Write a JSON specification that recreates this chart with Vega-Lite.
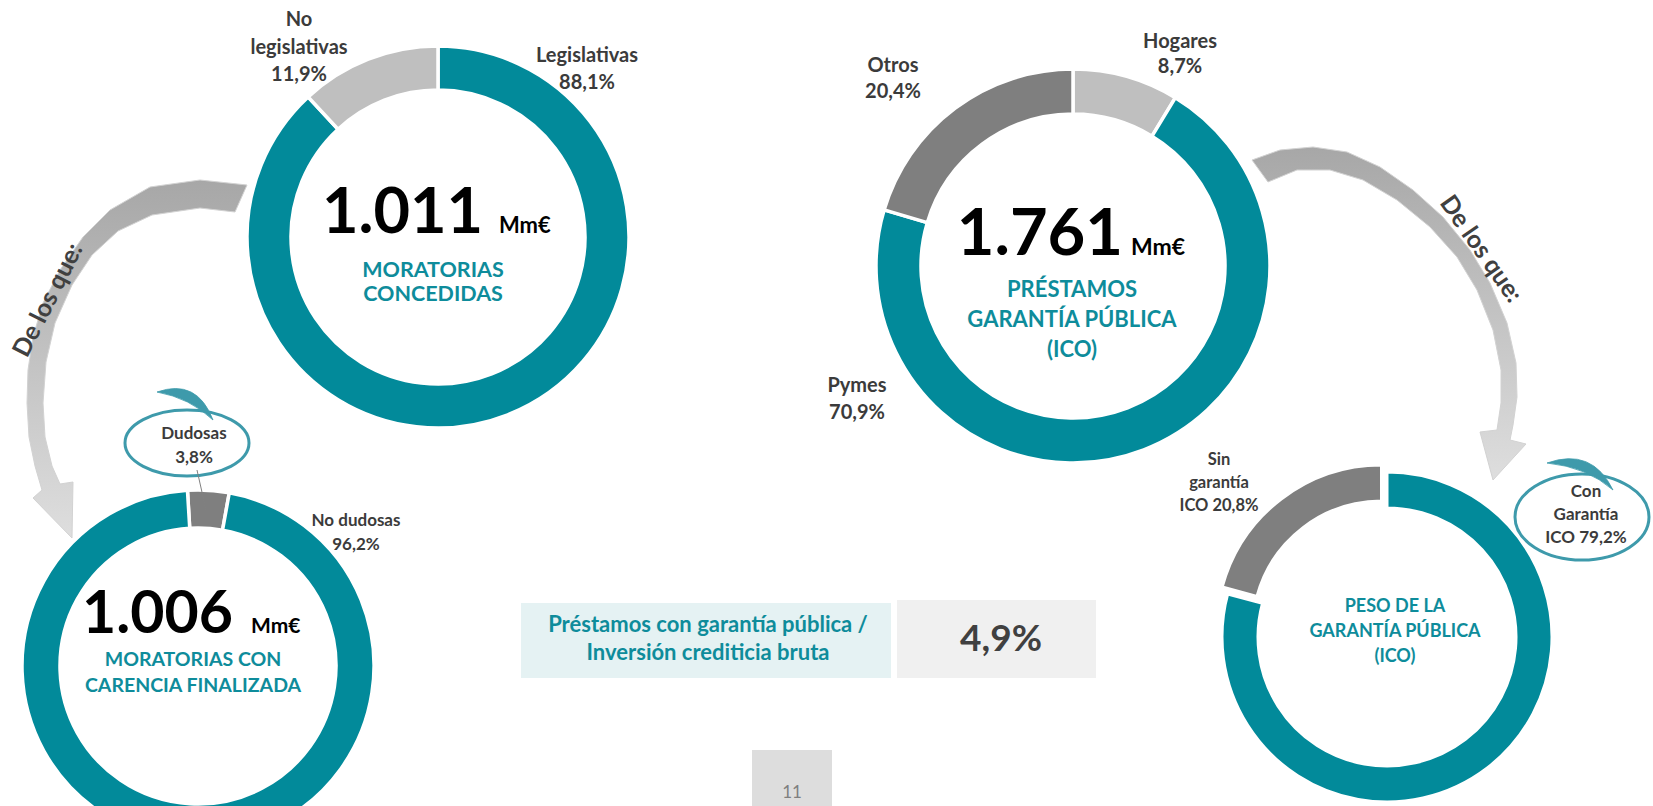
{
  "$schema": "https://vega.github.io/schema/vega-lite/v6.json",
  "width": 1653,
  "height": 806,
  "padding": 0,
  "autosize": {"type": "none"},
  "background": "white",
  "config": {
    "view": {"stroke": null},
    "locale": {"number": {"decimal": ",", "thousands": ".", "grouping": [3], "currency": ["", " €"]}},
    "text": {"font": "Lato"}
  },
  "datasets": {
    "moratorias": [
      {"cat": "Legislativas", "pct": 88.1, "k": 1, "label": "Legislativas\n88,1%"},
      {"cat": "No legislativas", "pct": 11.9, "k": 2, "label": "No\nlegislativas\n11,9%"}
    ],
    "ico": [
      {"cat": "Hogares", "pct": 8.7, "k": 1, "label": "Hogares\n8,7%"},
      {"cat": "Pymes", "pct": 70.9, "k": 2, "label": "Pymes\n70,9%"},
      {"cat": "Otros", "pct": 20.4, "k": 3, "label": "Otros\n20,4%"}
    ],
    "carencia": [
      {"cat": "Dudosas", "pct": 3.8, "k": 1, "label": "Dudosas\n3,8%"},
      {"cat": "No dudosas", "pct": 96.2, "k": 2, "label": "No dudosas\n96,2%"}
    ],
    "peso": [
      {"cat": "Con Garantía ICO", "pct": 79.2, "k": 1, "label": "Con\nGarantía\nICO 79,2%"},
      {"cat": "Sin garantía ICO", "pct": 20.8, "k": 2, "label": "Sin\ngarantía\nICO 20,8%"}
    ],
    "totales": [
      {"id": "moratorias", "total": 1011, "unit": "Mm€", "title": "MORATORIAS\nCONCEDIDAS"},
      {"id": "ico", "total": 1761, "unit": "Mm€", "title": "PRÉSTAMOS\nGARANTÍA PÚBLICA\n(ICO)"},
      {"id": "carencia", "total": 1006, "unit": "Mm€", "title": "MORATORIAS CON\nCARENCIA FINALIZADA"},
      {"id": "peso", "title": "PESO DE LA\nGARANTÍA PÚBLICA\n(ICO)"}
    ],
    "flechas": [
      {"id": "izq", "texto": "De los que:"},
      {"id": "der", "texto": "De los que:"}
    ],
    "ratio": [
      {"label": "Préstamos con garantía pública /\nInversión crediticia bruta", "value": 0.049}
    ],
    "pagina": [{"n": 11}]
  },
  "layer": [
    {
      "data": {"name": "flechas"},
      "transform": [{"filter": "datum.id === 'izq'"}],
      "mark": {"type": "point", "filled": true, "opacity": 1, "size": 40000,
        "shape": "M1.07,-1.75 L0.60,-1.80 L0.10,-1.73 L-0.30,-1.50 L-0.57,-1.23 L-0.80,-0.90 L-0.97,-0.57 L-1.07,-0.23 L-1.12,0.10 L-1.13,0.43 L-1.11,0.77 L-1.05,1.06 L-0.98,1.30 L-1.07,1.38 L-0.68,1.78 L-0.67,1.22 L-0.80,1.24 L-0.88,1.06 L-0.95,0.77 L-0.97,0.43 L-0.94,0.02 L-0.85,-0.37 L-0.68,-0.75 L-0.48,-1.05 L-0.22,-1.29 L0.12,-1.45 L0.60,-1.52 L0.95,-1.48 Z",
        "fill": {"gradient": "linear", "x1": 0, "y1": 0, "x2": 0, "y2": 1, "stops": [{"offset": 0, "color": "#A7A7A7"}, {"offset": 1, "color": "#DEDEDE"}]},
        "stroke": "#D2D2D2", "strokeWidth": 1},
      "encoding": {
        "x": {"datum": 140, "type": "quantitative", "scale": {"domain": [0, 1653], "range": [0, 1653], "nice": false}, "axis": null},
        "y": {"datum": 360, "type": "quantitative", "scale": {"domain": [0, 806], "range": [0, 806], "nice": false}, "axis": null}
      }
    },
    {
      "data": {"name": "flechas"},
      "transform": [{"filter": "datum.id === 'der'"}],
      "mark": {"type": "point", "filled": true, "opacity": 1, "size": 40000,
        "shape": "M-1.48,-1.60 L-1.20,-1.70 L-0.87,-1.73 L-0.53,-1.68 L-0.20,-1.53 L0.13,-1.30 L0.43,-1.03 L0.70,-0.70 L0.90,-0.37 L1.07,0.03 L1.16,0.43 L1.17,0.77 L1.13,1.05 L1.10,1.20 L1.26,1.24 L0.93,1.60 L0.80,1.12 L0.97,1.10 L1.01,0.83 L1.01,0.50 L0.93,0.10 L0.77,-0.30 L0.57,-0.63 L0.30,-0.93 L-0.03,-1.20 L-0.37,-1.40 L-0.70,-1.50 L-1.03,-1.50 L-1.32,-1.38 Z",
        "fill": {"gradient": "linear", "x1": 0, "y1": 0, "x2": 0, "y2": 1, "stops": [{"offset": 0, "color": "#A7A7A7"}, {"offset": 1, "color": "#DEDEDE"}]},
        "stroke": "#D2D2D2", "strokeWidth": 1},
      "encoding": {
        "x": {"datum": 1400, "type": "quantitative", "scale": {"domain": [0, 1653], "range": [0, 1653], "nice": false}, "axis": null},
        "y": {"datum": 320, "type": "quantitative", "scale": {"domain": [0, 806], "range": [0, 806], "nice": false}, "axis": null}
      }
    },
    {
      "data": {"name": "flechas"},
      "transform": [{"filter": "datum.id === 'izq'"}],
      "mark": {"type": "text", "align": "center", "baseline": "middle", "font": "Lato", "fontSize": 25, "fontWeight": "bold", "color": "#404040", "angle": -63},
      "encoding": {
        "x": {"datum": 48, "type": "quantitative", "scale": {"domain": [0, 1653], "range": [0, 1653], "nice": false}, "axis": null},
        "y": {"datum": 300, "type": "quantitative", "scale": {"domain": [0, 806], "range": [0, 806], "nice": false}, "axis": null},
        "text": {"field": "texto"}
      }
    },
    {
      "data": {"name": "flechas"},
      "transform": [{"filter": "datum.id === 'der'"}],
      "mark": {"type": "text", "align": "center", "baseline": "middle", "font": "Lato", "fontSize": 25, "fontWeight": "bold", "color": "#404040", "angle": 55},
      "encoding": {
        "x": {"datum": 1481, "type": "quantitative", "scale": {"domain": [0, 1653], "range": [0, 1653], "nice": false}, "axis": null},
        "y": {"datum": 249, "type": "quantitative", "scale": {"domain": [0, 806], "range": [0, 806], "nice": false}, "axis": null},
        "text": {"field": "texto"}
      }
    },
    {
      "data": {"name": "moratorias"},
      "mark": {"type": "arc", "outerRadius": 191, "innerRadius": 147, "stroke": "white", "strokeWidth": 3.5},
      "encoding": {
        "x": {"datum": 438, "type": "quantitative", "scale": {"domain": [0, 1653], "range": [0, 1653], "nice": false}, "axis": null},
        "y": {"datum": 237, "type": "quantitative", "scale": {"domain": [0, 806], "range": [0, 806], "nice": false}, "axis": null},
        "theta": {"field": "pct", "type": "quantitative", "stack": true},
        "order": {"field": "k", "type": "quantitative"},
        "color": {"field": "cat", "type": "nominal", "legend": null,
          "scale": {"domain": ["Legislativas", "No legislativas", "Hogares", "Pymes", "Otros", "Dudosas", "No dudosas", "Con Garantía ICO", "Sin garantía ICO"],
                    "range": ["#028A9A", "#BFBFBF", "#BFBFBF", "#028A9A", "#7F7F7F", "#7F7F7F", "#028A9A", "#028A9A", "#7F7F7F"]}}
      }
    },
    {
      "data": {"name": "ico"},
      "mark": {"type": "arc", "outerRadius": 197, "innerRadius": 152, "stroke": "white", "strokeWidth": 3.5},
      "encoding": {
        "x": {"datum": 1073, "type": "quantitative", "scale": {"domain": [0, 1653], "range": [0, 1653], "nice": false}, "axis": null},
        "y": {"datum": 266, "type": "quantitative", "scale": {"domain": [0, 806], "range": [0, 806], "nice": false}, "axis": null},
        "theta": {"field": "pct", "type": "quantitative", "stack": true},
        "order": {"field": "k", "type": "quantitative"},
        "color": {"field": "cat", "type": "nominal", "legend": null,
          "scale": {"domain": ["Legislativas", "No legislativas", "Hogares", "Pymes", "Otros", "Dudosas", "No dudosas", "Con Garantía ICO", "Sin garantía ICO"],
                    "range": ["#028A9A", "#BFBFBF", "#BFBFBF", "#028A9A", "#7F7F7F", "#7F7F7F", "#028A9A", "#028A9A", "#7F7F7F"]}}
      }
    },
    {
      "data": {"name": "carencia"},
      "mark": {"type": "arc", "outerRadius": 176, "innerRadius": 138, "stroke": "white", "strokeWidth": 3.5},
      "encoding": {
        "x": {"datum": 198, "type": "quantitative", "scale": {"domain": [0, 1653], "range": [0, 1653], "nice": false}, "axis": null},
        "y": {"datum": 666, "type": "quantitative", "scale": {"domain": [0, 806], "range": [0, 806], "nice": false}, "axis": null},
        "theta": {"field": "pct", "type": "quantitative", "stack": true, "scale": {"range": [-0.06, 6.2232]}},
        "order": {"field": "k", "type": "quantitative"},
        "color": {"field": "cat", "type": "nominal", "legend": null,
          "scale": {"domain": ["Legislativas", "No legislativas", "Hogares", "Pymes", "Otros", "Dudosas", "No dudosas", "Con Garantía ICO", "Sin garantía ICO"],
                    "range": ["#028A9A", "#BFBFBF", "#BFBFBF", "#028A9A", "#7F7F7F", "#7F7F7F", "#028A9A", "#028A9A", "#7F7F7F"]}}
      }
    },
    {
      "data": {"name": "peso"},
      "mark": {"type": "arc", "outerRadius": 165, "innerRadius": 129, "stroke": "white", "strokeWidth": 3},
      "encoding": {
        "x": {"datum": 1387, "type": "quantitative", "scale": {"domain": [0, 1653], "range": [0, 1653], "nice": false}, "axis": null},
        "y": {"datum": 637, "type": "quantitative", "scale": {"domain": [0, 806], "range": [0, 806], "nice": false}, "axis": null},
        "theta": {"field": "pct", "type": "quantitative", "stack": true},
        "order": {"field": "k", "type": "quantitative"},
        "opacity": {"condition": {"test": "datum.cat === 'Sin garantía ICO'", "value": 0}, "value": 1},
        "color": {"field": "cat", "type": "nominal", "legend": null,
          "scale": {"domain": ["Legislativas", "No legislativas", "Hogares", "Pymes", "Otros", "Dudosas", "No dudosas", "Con Garantía ICO", "Sin garantía ICO"],
                    "range": ["#028A9A", "#BFBFBF", "#BFBFBF", "#028A9A", "#7F7F7F", "#7F7F7F", "#028A9A", "#028A9A", "#7F7F7F"]}}
      }
    },
    {
      "data": {"name": "peso"},
      "mark": {"type": "arc", "outerRadius": 165, "innerRadius": 129, "stroke": "white", "strokeWidth": 3},
      "encoding": {
        "x": {"datum": 1381.5, "type": "quantitative", "scale": {"domain": [0, 1653], "range": [0, 1653], "nice": false}, "axis": null},
        "y": {"datum": 630, "type": "quantitative", "scale": {"domain": [0, 806], "range": [0, 806], "nice": false}, "axis": null},
        "theta": {"field": "pct", "type": "quantitative", "stack": true},
        "order": {"field": "k", "type": "quantitative"},
        "opacity": {"condition": {"test": "datum.cat === 'Sin garantía ICO'", "value": 1}, "value": 0},
        "color": {"field": "cat", "type": "nominal", "legend": null,
          "scale": {"domain": ["Legislativas", "No legislativas", "Hogares", "Pymes", "Otros", "Dudosas", "No dudosas", "Con Garantía ICO", "Sin garantía ICO"],
                    "range": ["#028A9A", "#BFBFBF", "#BFBFBF", "#028A9A", "#7F7F7F", "#7F7F7F", "#028A9A", "#028A9A", "#7F7F7F"]}}
      }
    },
    {
      "data": {"name": "carencia"},
      "transform": [{"filter": "datum.cat === 'Dudosas'"}],
      "mark": {"type": "point", "filled": false, "opacity": 1, "size": 40000,
        "shape": "M-0.62,0 A0.62,0.33,0,1,0,0.62,0 A0.62,0.33,0,1,0,-0.62,0 Z",
        "stroke": "#3E9AAB", "strokeWidth": 3},
      "encoding": {
        "x": {"datum": 187, "type": "quantitative", "scale": {"domain": [0, 1653], "range": [0, 1653], "nice": false}, "axis": null},
        "y": {"datum": 443, "type": "quantitative", "scale": {"domain": [0, 806], "range": [0, 806], "nice": false}, "axis": null}
      }
    },
    {
      "data": {"name": "carencia"},
      "transform": [{"filter": "datum.cat === 'Dudosas'"}],
      "mark": {"type": "point", "filled": true, "opacity": 1, "size": 40000,
        "shape": "M-0.30,-0.51 Q0.10,-0.65,0.26,-0.23 Q0.03,-0.45,-0.30,-0.51 Z",
        "fill": "#3E9AAB", "stroke": "#3E9AAB", "strokeWidth": 0.8},
      "encoding": {
        "x": {"datum": 187, "type": "quantitative", "scale": {"domain": [0, 1653], "range": [0, 1653], "nice": false}, "axis": null},
        "y": {"datum": 443, "type": "quantitative", "scale": {"domain": [0, 806], "range": [0, 806], "nice": false}, "axis": null}
      }
    },
    {
      "data": {"name": "peso"},
      "transform": [{"filter": "datum.cat === 'Con Garantía ICO'"}],
      "mark": {"type": "point", "filled": false, "opacity": 1, "size": 40000,
        "shape": "M-0.67,0 A0.67,0.43,0,1,0,0.67,0 A0.67,0.43,0,1,0,-0.67,0 Z",
        "stroke": "#3E9AAB", "strokeWidth": 3},
      "encoding": {
        "x": {"datum": 1582, "type": "quantitative", "scale": {"domain": [0, 1653], "range": [0, 1653], "nice": false}, "axis": null},
        "y": {"datum": 517, "type": "quantitative", "scale": {"domain": [0, 806], "range": [0, 806], "nice": false}, "axis": null}
      }
    },
    {
      "data": {"name": "peso"},
      "transform": [{"filter": "datum.cat === 'Con Garantía ICO'"}],
      "mark": {"type": "point", "filled": true, "opacity": 1, "size": 40000,
        "shape": "M-0.35,-0.54 Q0.10,-0.70,0.31,-0.27 Q0.05,-0.50,-0.35,-0.54 Z",
        "fill": "#3E9AAB", "stroke": "#3E9AAB", "strokeWidth": 0.8},
      "encoding": {
        "x": {"datum": 1582, "type": "quantitative", "scale": {"domain": [0, 1653], "range": [0, 1653], "nice": false}, "axis": null},
        "y": {"datum": 517, "type": "quantitative", "scale": {"domain": [0, 806], "range": [0, 806], "nice": false}, "axis": null}
      }
    },
    {
      "data": {"name": "carencia"},
      "transform": [{"filter": "datum.cat === 'Dudosas'"}],
      "mark": {"type": "rule", "color": "#808080", "strokeWidth": 1},
      "encoding": {
        "x": {"datum": 197, "type": "quantitative", "scale": {"domain": [0, 1653], "range": [0, 1653], "nice": false}, "axis": null},
        "y": {"datum": 470, "type": "quantitative", "scale": {"domain": [0, 806], "range": [0, 806], "nice": false}, "axis": null},
        "x2": {"datum": 206},
        "y2": {"datum": 510}
      }
    },
    {
      "data": {"name": "moratorias"},
      "transform": [{"filter": "datum.cat === 'No legislativas'"}],
      "mark": {"type": "text", "align": "center", "baseline": "alphabetic", "font": "Lato", "fontSize": 20, "fontWeight": "bold", "color": "#3B3B3B", "lineBreak": "\n", "lineHeight": 27.5},
      "encoding": {
        "x": {"datum": 299, "type": "quantitative", "scale": {"domain": [0, 1653], "range": [0, 1653], "nice": false}, "axis": null},
        "y": {"datum": 26, "type": "quantitative", "scale": {"domain": [0, 806], "range": [0, 806], "nice": false}, "axis": null},
        "text": {"field": "label"}
      }
    },
    {
      "data": {"name": "moratorias"},
      "transform": [{"filter": "datum.cat === 'Legislativas'"}],
      "mark": {"type": "text", "align": "center", "baseline": "alphabetic", "font": "Lato", "fontSize": 20, "fontWeight": "bold", "color": "#3B3B3B", "lineBreak": "\n", "lineHeight": 26.5},
      "encoding": {
        "x": {"datum": 587, "type": "quantitative", "scale": {"domain": [0, 1653], "range": [0, 1653], "nice": false}, "axis": null},
        "y": {"datum": 62, "type": "quantitative", "scale": {"domain": [0, 806], "range": [0, 806], "nice": false}, "axis": null},
        "text": {"field": "label"}
      }
    },
    {
      "data": {"name": "ico"},
      "transform": [{"filter": "datum.cat === 'Otros'"}],
      "mark": {"type": "text", "align": "center", "baseline": "alphabetic", "font": "Lato", "fontSize": 20, "fontWeight": "bold", "color": "#3B3B3B", "lineBreak": "\n", "lineHeight": 25.5},
      "encoding": {
        "x": {"datum": 893, "type": "quantitative", "scale": {"domain": [0, 1653], "range": [0, 1653], "nice": false}, "axis": null},
        "y": {"datum": 72, "type": "quantitative", "scale": {"domain": [0, 806], "range": [0, 806], "nice": false}, "axis": null},
        "text": {"field": "label"}
      }
    },
    {
      "data": {"name": "ico"},
      "transform": [{"filter": "datum.cat === 'Hogares'"}],
      "mark": {"type": "text", "align": "center", "baseline": "alphabetic", "font": "Lato", "fontSize": 20, "fontWeight": "bold", "color": "#3B3B3B", "lineBreak": "\n", "lineHeight": 25},
      "encoding": {
        "x": {"datum": 1180, "type": "quantitative", "scale": {"domain": [0, 1653], "range": [0, 1653], "nice": false}, "axis": null},
        "y": {"datum": 48, "type": "quantitative", "scale": {"domain": [0, 806], "range": [0, 806], "nice": false}, "axis": null},
        "text": {"field": "label"}
      }
    },
    {
      "data": {"name": "ico"},
      "transform": [{"filter": "datum.cat === 'Pymes'"}],
      "mark": {"type": "text", "align": "center", "baseline": "alphabetic", "font": "Lato", "fontSize": 20, "fontWeight": "bold", "color": "#3B3B3B", "lineBreak": "\n", "lineHeight": 27},
      "encoding": {
        "x": {"datum": 857, "type": "quantitative", "scale": {"domain": [0, 1653], "range": [0, 1653], "nice": false}, "axis": null},
        "y": {"datum": 392, "type": "quantitative", "scale": {"domain": [0, 806], "range": [0, 806], "nice": false}, "axis": null},
        "text": {"field": "label"}
      }
    },
    {
      "data": {"name": "carencia"},
      "transform": [{"filter": "datum.cat === 'Dudosas'"}],
      "mark": {"type": "text", "align": "center", "baseline": "alphabetic", "font": "Lato", "fontSize": 17, "fontWeight": "bold", "color": "#3B3B3B", "lineBreak": "\n", "lineHeight": 24},
      "encoding": {
        "x": {"datum": 194, "type": "quantitative", "scale": {"domain": [0, 1653], "range": [0, 1653], "nice": false}, "axis": null},
        "y": {"datum": 439, "type": "quantitative", "scale": {"domain": [0, 806], "range": [0, 806], "nice": false}, "axis": null},
        "text": {"field": "label"}
      }
    },
    {
      "data": {"name": "carencia"},
      "transform": [{"filter": "datum.cat === 'No dudosas'"}],
      "mark": {"type": "text", "align": "center", "baseline": "alphabetic", "font": "Lato", "fontSize": 17, "fontWeight": "bold", "color": "#3B3B3B", "lineBreak": "\n", "lineHeight": 24},
      "encoding": {
        "x": {"datum": 356, "type": "quantitative", "scale": {"domain": [0, 1653], "range": [0, 1653], "nice": false}, "axis": null},
        "y": {"datum": 526, "type": "quantitative", "scale": {"domain": [0, 806], "range": [0, 806], "nice": false}, "axis": null},
        "text": {"field": "label"}
      }
    },
    {
      "data": {"name": "peso"},
      "transform": [{"filter": "datum.cat === 'Sin garantía ICO'"}],
      "mark": {"type": "text", "align": "center", "baseline": "alphabetic", "font": "Lato", "fontSize": 16.5, "fontWeight": "bold", "color": "#3B3B3B", "lineBreak": "\n", "lineHeight": 23},
      "encoding": {
        "x": {"datum": 1219, "type": "quantitative", "scale": {"domain": [0, 1653], "range": [0, 1653], "nice": false}, "axis": null},
        "y": {"datum": 465, "type": "quantitative", "scale": {"domain": [0, 806], "range": [0, 806], "nice": false}, "axis": null},
        "text": {"field": "label"}
      }
    },
    {
      "data": {"name": "peso"},
      "transform": [{"filter": "datum.cat === 'Con Garantía ICO'"}],
      "mark": {"type": "text", "align": "center", "baseline": "alphabetic", "font": "Lato", "fontSize": 17, "fontWeight": "bold", "color": "#3B3B3B", "lineBreak": "\n", "lineHeight": 23},
      "encoding": {
        "x": {"datum": 1586, "type": "quantitative", "scale": {"domain": [0, 1653], "range": [0, 1653], "nice": false}, "axis": null},
        "y": {"datum": 497, "type": "quantitative", "scale": {"domain": [0, 806], "range": [0, 806], "nice": false}, "axis": null},
        "text": {"field": "label"}
      }
    },
    {
      "data": {"name": "totales"},
      "transform": [{"filter": "datum.id === 'moratorias'"}],
      "mark": {"type": "text", "align": "right", "baseline": "alphabetic", "font": "Lato", "fontSize": 63, "fontWeight": "bold", "color": "#000000"},
      "encoding": {
        "x": {"datum": 483, "type": "quantitative", "scale": {"domain": [0, 1653], "range": [0, 1653], "nice": false}, "axis": null},
        "y": {"datum": 233, "type": "quantitative", "scale": {"domain": [0, 806], "range": [0, 806], "nice": false}, "axis": null},
        "text": {"field": "total", "type": "quantitative", "format": ",d"}
      }
    },
    {
      "data": {"name": "totales"},
      "transform": [{"filter": "datum.id === 'moratorias'"}],
      "mark": {"type": "text", "align": "left", "baseline": "alphabetic", "font": "Lato", "fontSize": 22, "fontWeight": "bold", "color": "#000000"},
      "encoding": {
        "x": {"datum": 499, "type": "quantitative", "scale": {"domain": [0, 1653], "range": [0, 1653], "nice": false}, "axis": null},
        "y": {"datum": 233, "type": "quantitative", "scale": {"domain": [0, 806], "range": [0, 806], "nice": false}, "axis": null},
        "text": {"field": "unit"}
      }
    },
    {
      "data": {"name": "totales"},
      "transform": [{"filter": "datum.id === 'moratorias'"}],
      "mark": {"type": "text", "align": "center", "baseline": "alphabetic", "font": "Lato", "fontSize": 21.5, "fontWeight": "bold", "color": "#0E8C9B", "lineBreak": "\n", "lineHeight": 24},
      "encoding": {
        "x": {"datum": 433, "type": "quantitative", "scale": {"domain": [0, 1653], "range": [0, 1653], "nice": false}, "axis": null},
        "y": {"datum": 277, "type": "quantitative", "scale": {"domain": [0, 806], "range": [0, 806], "nice": false}, "axis": null},
        "text": {"field": "title"}
      }
    },
    {
      "data": {"name": "totales"},
      "transform": [{"filter": "datum.id === 'ico'"}],
      "mark": {"type": "text", "align": "right", "baseline": "alphabetic", "font": "Lato", "fontSize": 65, "fontWeight": "bold", "color": "#000000"},
      "encoding": {
        "x": {"datum": 1123, "type": "quantitative", "scale": {"domain": [0, 1653], "range": [0, 1653], "nice": false}, "axis": null},
        "y": {"datum": 255, "type": "quantitative", "scale": {"domain": [0, 806], "range": [0, 806], "nice": false}, "axis": null},
        "text": {"field": "total", "type": "quantitative", "format": ",d"}
      }
    },
    {
      "data": {"name": "totales"},
      "transform": [{"filter": "datum.id === 'ico'"}],
      "mark": {"type": "text", "align": "left", "baseline": "alphabetic", "font": "Lato", "fontSize": 23, "fontWeight": "bold", "color": "#000000"},
      "encoding": {
        "x": {"datum": 1131, "type": "quantitative", "scale": {"domain": [0, 1653], "range": [0, 1653], "nice": false}, "axis": null},
        "y": {"datum": 255, "type": "quantitative", "scale": {"domain": [0, 806], "range": [0, 806], "nice": false}, "axis": null},
        "text": {"field": "unit"}
      }
    },
    {
      "data": {"name": "totales"},
      "transform": [{"filter": "datum.id === 'ico'"}],
      "mark": {"type": "text", "align": "center", "baseline": "alphabetic", "font": "Lato", "fontSize": 22, "fontWeight": "bold", "color": "#0E8C9B", "lineBreak": "\n", "lineHeight": 30},
      "encoding": {
        "x": {"datum": 1072, "type": "quantitative", "scale": {"domain": [0, 1653], "range": [0, 1653], "nice": false}, "axis": null},
        "y": {"datum": 297, "type": "quantitative", "scale": {"domain": [0, 806], "range": [0, 806], "nice": false}, "axis": null},
        "text": {"field": "title"}
      }
    },
    {
      "data": {"name": "totales"},
      "transform": [{"filter": "datum.id === 'carencia'"}],
      "mark": {"type": "text", "align": "right", "baseline": "alphabetic", "font": "Lato", "fontSize": 59, "fontWeight": "bold", "color": "#000000"},
      "encoding": {
        "x": {"datum": 233, "type": "quantitative", "scale": {"domain": [0, 1653], "range": [0, 1653], "nice": false}, "axis": null},
        "y": {"datum": 633, "type": "quantitative", "scale": {"domain": [0, 806], "range": [0, 806], "nice": false}, "axis": null},
        "text": {"field": "total", "type": "quantitative", "format": ",d"}
      }
    },
    {
      "data": {"name": "totales"},
      "transform": [{"filter": "datum.id === 'carencia'"}],
      "mark": {"type": "text", "align": "left", "baseline": "alphabetic", "font": "Lato", "fontSize": 21, "fontWeight": "bold", "color": "#000000"},
      "encoding": {
        "x": {"datum": 251, "type": "quantitative", "scale": {"domain": [0, 1653], "range": [0, 1653], "nice": false}, "axis": null},
        "y": {"datum": 633, "type": "quantitative", "scale": {"domain": [0, 806], "range": [0, 806], "nice": false}, "axis": null},
        "text": {"field": "unit"}
      }
    },
    {
      "data": {"name": "totales"},
      "transform": [{"filter": "datum.id === 'carencia'"}],
      "mark": {"type": "text", "align": "center", "baseline": "alphabetic", "font": "Lato", "fontSize": 19.5, "fontWeight": "bold", "color": "#0E8C9B", "lineBreak": "\n", "lineHeight": 26},
      "encoding": {
        "x": {"datum": 193, "type": "quantitative", "scale": {"domain": [0, 1653], "range": [0, 1653], "nice": false}, "axis": null},
        "y": {"datum": 665.5, "type": "quantitative", "scale": {"domain": [0, 806], "range": [0, 806], "nice": false}, "axis": null},
        "text": {"field": "title"}
      }
    },
    {
      "data": {"name": "totales"},
      "transform": [{"filter": "datum.id === 'peso'"}],
      "mark": {"type": "text", "align": "center", "baseline": "alphabetic", "font": "Lato", "fontSize": 18, "fontWeight": "bold", "color": "#0E8C9B", "lineBreak": "\n", "lineHeight": 25},
      "encoding": {
        "x": {"datum": 1395, "type": "quantitative", "scale": {"domain": [0, 1653], "range": [0, 1653], "nice": false}, "axis": null},
        "y": {"datum": 612, "type": "quantitative", "scale": {"domain": [0, 806], "range": [0, 806], "nice": false}, "axis": null},
        "text": {"field": "title"}
      }
    },
    {
      "data": {"name": "ratio"},
      "mark": {"type": "rect", "color": "#E5F2F3"},
      "encoding": {
        "x": {"datum": 521, "type": "quantitative", "scale": {"domain": [0, 1653], "range": [0, 1653], "nice": false}, "axis": null},
        "x2": {"datum": 891},
        "y": {"datum": 603, "type": "quantitative", "scale": {"domain": [0, 806], "range": [0, 806], "nice": false}, "axis": null},
        "y2": {"datum": 678}
      }
    },
    {
      "data": {"name": "ratio"},
      "mark": {"type": "rect", "color": "#F0F0F0"},
      "encoding": {
        "x": {"datum": 897, "type": "quantitative", "scale": {"domain": [0, 1653], "range": [0, 1653], "nice": false}, "axis": null},
        "x2": {"datum": 1096},
        "y": {"datum": 600, "type": "quantitative", "scale": {"domain": [0, 806], "range": [0, 806], "nice": false}, "axis": null},
        "y2": {"datum": 678}
      }
    },
    {
      "data": {"name": "ratio"},
      "mark": {"type": "text", "align": "center", "baseline": "alphabetic", "font": "Lato", "fontSize": 22, "fontWeight": "bold", "color": "#0E8C9B", "lineBreak": "\n", "lineHeight": 28},
      "encoding": {
        "x": {"datum": 708, "type": "quantitative", "scale": {"domain": [0, 1653], "range": [0, 1653], "nice": false}, "axis": null},
        "y": {"datum": 632, "type": "quantitative", "scale": {"domain": [0, 806], "range": [0, 806], "nice": false}, "axis": null},
        "text": {"field": "label"}
      }
    },
    {
      "data": {"name": "ratio"},
      "mark": {"type": "text", "align": "center", "baseline": "alphabetic", "font": "Lato", "fontSize": 37, "fontWeight": "bold", "color": "#404040"},
      "encoding": {
        "x": {"datum": 1001, "type": "quantitative", "scale": {"domain": [0, 1653], "range": [0, 1653], "nice": false}, "axis": null},
        "y": {"datum": 651, "type": "quantitative", "scale": {"domain": [0, 806], "range": [0, 806], "nice": false}, "axis": null},
        "text": {"field": "value", "type": "quantitative", "format": ".1%"}
      }
    },
    {
      "data": {"name": "pagina"},
      "mark": {"type": "rect", "color": "#DDDDDD"},
      "encoding": {
        "x": {"datum": 752, "type": "quantitative", "scale": {"domain": [0, 1653], "range": [0, 1653], "nice": false}, "axis": null},
        "x2": {"datum": 832},
        "y": {"datum": 750, "type": "quantitative", "scale": {"domain": [0, 806], "range": [0, 806], "nice": false}, "axis": null},
        "y2": {"datum": 806}
      }
    },
    {
      "data": {"name": "pagina"},
      "mark": {"type": "text", "align": "center", "baseline": "alphabetic", "font": "Lato", "fontSize": 17, "fontWeight": "normal", "color": "#7F7F7F"},
      "encoding": {
        "x": {"datum": 792, "type": "quantitative", "scale": {"domain": [0, 1653], "range": [0, 1653], "nice": false}, "axis": null},
        "y": {"datum": 798, "type": "quantitative", "scale": {"domain": [0, 806], "range": [0, 806], "nice": false}, "axis": null},
        "text": {"field": "n", "type": "quantitative", "format": "d"}
      }
    }
  ],
  "resolve": {"scale": {"theta": "independent"}}
}
